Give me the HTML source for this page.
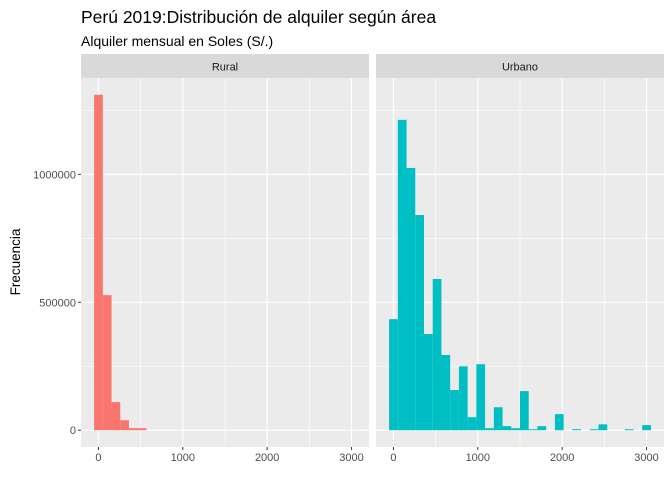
<!DOCTYPE html>
<html><head><meta charset="utf-8"><style>
body{margin:0;background:#fff;font-family:"Liberation Sans",Arial,sans-serif}
</style></head><body>
<svg id="chart" width="672" height="480" xmlns="http://www.w3.org/2000/svg" font-family="Liberation Sans, Arial, sans-serif">
<rect width="672" height="480" fill="#fff"/>
<text x="81" y="23" font-size="17.5" fill="#000">Perú 2019:Distribución de alquiler según área</text>
<text x="81" y="46" font-size="14" fill="#000">Alquiler mensual en Soles (S/.)</text>
<text transform="translate(20,262) rotate(-90)" text-anchor="middle" font-size="13.5" fill="#000">Frecuencia</text>
<g id="plot"></g>
</svg>
<script>
const binCenters = [0,103.45,206.9,310.34,413.79,517.24,620.69,724.14,827.59,931.03,1034.48,1137.93,1241.38,1344.83,1448.28,1551.72,1655.17,1758.62,1862.07,1965.52,2068.97,2172.41,2275.86,2379.31,2482.76,2586.21,2689.66,2793.1,2896.55,3000];
const ruralCounts = [1311000,528000,110000,39000,8000,8000,0,0,0,0,0,0,0,0,0,0,0,0,0,0,0,0,0,0,0,0,0,0,0,0];
const urbanCounts = [434000,1213000,1025000,841000,376000,591000,294000,157000,250000,51000,258000,8000,90000,16000,8000,153000,4000,16000,0,63000,0,4000,0,4000,23000,0,0,4000,0,20000];
const xTicks = [0,1000,2000,3000];
const xMinor = [500,1500,2500];
const yTicks = [0,500000,1000000];
const yTickLabels = ["0","500000","1000000"];
const yMinor = [250000,750000,1250000];
const panelNames = ["Rural","Urbano"];
const panelColors = ["#F8766D","#00BFC4"];

const NS="http://www.w3.org/2000/svg";
const plotG=document.getElementById('plot');
function mk(t,a,p){const e=document.createElementNS(NS,t);for(const k in a)e.setAttribute(k,a[k]);(p||plotG).appendChild(e);return e;}
const plotTop=78,plotBot=447,binW=3000/29;
const xmin=-binW/2-(3000+binW)*0.05, xmax=3000+binW/2+(3000+binW)*0.05;
const yLo=-1311000*0.05, yHi=1311000*1.05;
function Y(v){return plotBot-(v-yLo)/(yHi-yLo)*(plotBot-plotTop);}
const panels=[[81,369],[376,664]];
panels.forEach((p,i)=>{
  const L=p[0],R=p[1];
  const X=v=>L+(v-xmin)/(xmax-xmin)*(R-L);
  const pg=mk('g',{});
  
  
  const strip=mk('rect',{x:L,y:54,width:R-L,height:24,fill:'#D9D9D9'},pg);
  
  
  const st=mk('text',{x:(L+R)/2,y:70.5,'text-anchor':'middle','font-size':'11','fill':'#1A1A1A'},pg);
  st.textContent=panelNames[i];
  
  
  mk('rect',{x:L,y:plotTop,width:R-L,height:plotBot-plotTop,fill:'#EBEBEB'},pg);
  xMinor.forEach(v=>mk('line',{x1:X(v),x2:X(v),y1:plotTop,y2:plotBot,stroke:'#fff','stroke-width':0.6},pg));
  yMinor.forEach(v=>mk('line',{x1:L,x2:R,y1:Y(v),y2:Y(v),stroke:'#fff','stroke-width':0.6},pg));
  xTicks.forEach(v=>mk('line',{x1:X(v),x2:X(v),y1:plotTop,y2:plotBot,stroke:'#fff','stroke-width':1.2},pg));
  yTicks.forEach(v=>mk('line',{x1:L,x2:R,y1:Y(v),y2:Y(v),stroke:'#fff','stroke-width':1.2},pg));
  const counts=i==0?ruralCounts:urbanCounts;
  counts.forEach((c,k)=>{
    if(c<=0)return;
    const b=mk('rect',{x:X(binCenters[k]-binW/2),y:Y(c),width:X(binCenters[k]+binW/2)-X(binCenters[k]-binW/2),height:Y(0)-Y(c),fill:panelColors[i]},pg);
    
    
  });
  xTicks.forEach(v=>{
    mk('line',{x1:X(v),x2:X(v),y1:plotBot,y2:plotBot+3,stroke:'#333','stroke-width':1},pg);
    const t=mk('text',{x:X(v),y:plotBot+14,'text-anchor':'middle','font-size':'11','fill':'#4D4D4D'},pg);
    t.textContent=v;
    
    
  });
  if(i==0){
    yTicks.forEach((v,j)=>{
      mk('line',{x1:L-3,x2:L,y1:Y(v),y2:Y(v),stroke:'#333','stroke-width':1},pg);
      const t=mk('text',{x:L-5,y:Y(v)+4,'text-anchor':'end','font-size':'11','fill':'#4D4D4D'},pg);
      t.textContent=yTickLabels[j];
      
      
    });
  }
});
</script>
</body></html>
